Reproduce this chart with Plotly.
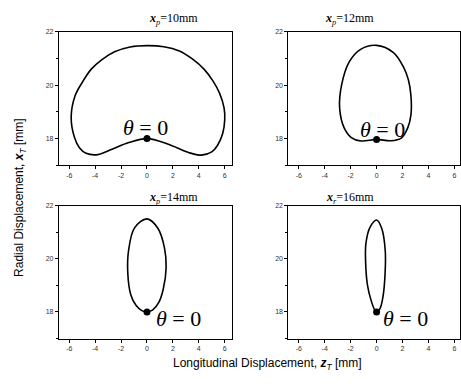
import plotly.graph_objects as go

# ---- data ----
titles = ["<b><i>x</i></b><sub><i>p</i></sub>=10mm", "<b><i>x</i></b><sub><i>p</i></sub>=12mm",
          "<b><i>x</i></b><sub><i>p</i></sub>=14mm", "<b><i>x</i></b><sub><i>r</i></sub>=16mm"]

z10 = [0, 1.6, 3.2, 4.2, 5.0, 5.45, 5.85, 6.0, 5.95, 5.6, 5.1, 4.4, 3.5, 2.5, 1.3, 0,
       -1.3, -2.5, -3.5, -4.3, -5.0, -5.55, -5.85, -5.6, -5.2, -4.7, -3.8, -2.7, -1.4, 0]
x10 = [18.0, 17.8, 17.48, 17.38, 17.5, 17.75, 18.2, 18.7, 19.15, 19.7, 20.15, 20.6, 20.98, 21.28, 21.44, 21.48,
       21.43, 21.25, 20.95, 20.6, 20.1, 19.6, 18.8, 18.05, 17.65, 17.45, 17.4, 17.6, 17.85, 18.0]

z12 = [0, 1.1, 1.9, 2.4, 2.65, 2.65, 2.45, 2.05, 1.3, 0, -1.2, -2.1, -2.7, -2.85, -2.5, -1.95, -1.2, 0]
x12 = [17.97, 17.92, 18.02, 18.4, 18.9, 19.6, 20.2, 20.7, 21.22, 21.49, 21.35, 20.88, 20.0, 19.15, 18.4, 18.04, 17.91, 17.97]

z14 = [0, 0.45, 0.9, 1.25, 1.48, 1.35, 0.85, 0, -0.96, -1.42, -1.48, -1.25, -0.85, -0.4, 0]
x14 = [18.0, 18.08, 18.35, 18.85, 19.68, 20.42, 21.15, 21.51, 21.17, 20.32, 19.45, 18.65, 18.25, 18.05, 18.0]

z16 = [0, 0.28, 0.5, 0.65, 0.67, 0.4, 0, -0.5, -0.82, -0.85, -0.7, -0.4, -0.15, 0]
x16 = [18.0, 18.15, 18.6, 19.4, 20.3, 21.15, 21.47, 21.2, 20.6, 19.94, 19.0, 18.4, 18.08, 18.0]

curves = [(z10, x10), (z12, x12), (z14, x14), (z16, x16)]
start_z = [0, 0, 0, 0]
start_x = [18.0, 17.97, 18.0, 18.0]
label_pos = [(-0.15, 18.42), (0.45, 18.35), (2.4, 17.75), (2.2, 17.75)]

xticks = [-6, -4, -2, 0, 2, 4, 6]
yticks = [18, 20, 22]

W, H = 461, 387
# pixel boxes: (left, right, top, bottom)
boxes = [(59, 233, 28, 163), (289, 461, 28, 163), (59, 233, 204, 338), (289, 461, 204, 338)]
xranges = [[-6.8, 6.6], [-6.8, 6.43], [-6.8, 6.6], [-6.8, 6.43]]
yr = [17, 22]

fig = go.Figure()
for i, ((zz, xx), box) in enumerate(zip(curves, boxes)):
    n = "" if i == 0 else str(i + 1)
    fig.add_trace(go.Scatter(x=zz, y=xx, mode="lines", line=dict(color="black", width=1.6, shape="spline", smoothing=1.0),
                             xaxis="x" + n, yaxis="y" + n, showlegend=False, hoverinfo="skip"))
    fig.add_trace(go.Scatter(x=[start_z[i]], y=[start_x[i]], mode="markers", marker=dict(color="black", size=7),
                             xaxis="x" + n, yaxis="y" + n, showlegend=False, hoverinfo="skip"))
    l, r, t, b = box
    common = dict(showline=True, linecolor="black", linewidth=1, mirror=True, ticks="outside", ticklen=3,
                  tickcolor="black", tickwidth=1, showgrid=False, zeroline=False,
                  tickfont=dict(family="Liberation Sans", size=7, color="#333"))
    fig.layout["xaxis" + n] = dict(domain=[l / W, min(r / W, 1.0)], range=xranges[i], anchor="y" + n,
                                   tickvals=xticks, ticktext=[str(v) for v in xticks], **common)
    fig.layout["yaxis" + n] = dict(domain=[1 - b / H, 1 - t / H], range=yr, anchor="x" + n,
                                   tickvals=yticks, ticktext=[str(v) for v in yticks],
                                   minor=dict(tickvals=[17, 19, 21], ticklen=2, ticks="outside", tickcolor="black"),
                                   **common)
    fig.add_annotation(x=label_pos[i][0], y=label_pos[i][1], xref="x" + n, yref="y" + n,
                       text="<i>θ</i> = 0", showarrow=False,
                       font=dict(family="Liberation Serif", size=22, color="black"))
    cx = (l + 147 - 59) if i % 2 == 0 else (l + 377 - 289)
    ty = 15 if i < 2 else 196
    fig.add_annotation(x=cx / W, y=1 - ty / H, xref="paper", yref="paper", text=titles[i], showarrow=False,
                       font=dict(family="Liberation Serif", size=12, color="black"), yanchor="middle")

fig.add_annotation(x=10 / W, y=1 - 195 / H, xref="paper", yref="paper", textangle=-90,
                   text="Radial Displacement, <b><i>x</i></b><sub><i>T</i></sub> [mm]", showarrow=False,
                   font=dict(family="Liberation Sans", size=12, color="black"))
fig.add_annotation(x=268 / W, y=1 - 374 / H, xref="paper", yref="paper",
                   text="Longitudinal Displacement, <b><i>z</i></b><sub><i>T</i></sub> [mm]", showarrow=False,
                   font=dict(family="Liberation Sans", size=12, color="black"))

fig.update_layout(width=W, height=H, margin=dict(l=0, r=0, t=0, b=0), paper_bgcolor="white",
                  plot_bgcolor="white")
fig.write_html("out.html")
